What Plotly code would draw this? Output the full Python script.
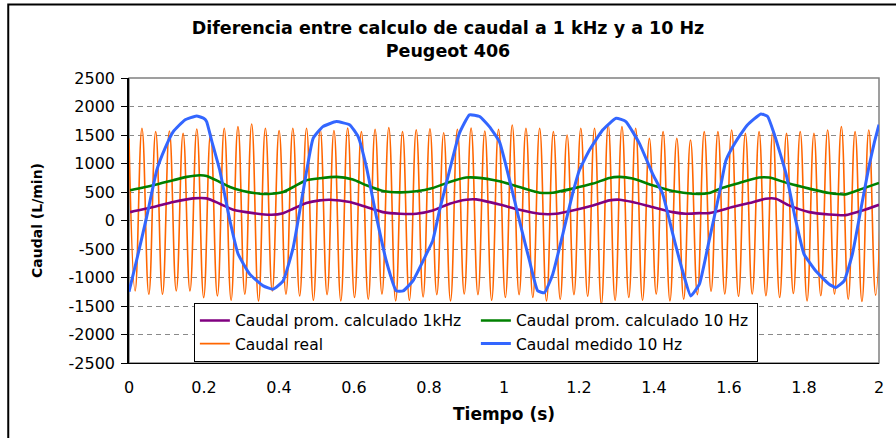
import plotly.graph_objects as go

# ---------------- data ----------------
# Caudal medido 10 Hz (blue)
t_medido = [0.000, 0.020, 0.047, 0.074, 0.096, 0.118, 0.149, 0.180, 0.200, 0.207, 0.220, 0.242,
            0.269, 0.291, 0.322, 0.358, 0.384, 0.411, 0.438, 0.464, 0.491, 0.517, 0.553, 0.589,
            0.611, 0.633, 0.660, 0.686, 0.713, 0.731, 0.757, 0.793, 0.810, 0.828, 0.855, 0.881,
            0.908, 0.935, 0.961, 0.988, 1.015, 1.041, 1.068, 1.090, 1.108, 1.130, 1.157, 1.183,
            1.201, 1.228, 1.263, 1.299, 1.325, 1.361, 1.396, 1.423, 1.450, 1.476, 1.498, 1.521,
            1.547, 1.574, 1.592, 1.618, 1.649, 1.685, 1.703, 1.720, 1.752, 1.778, 1.800, 1.831,
            1.867, 1.885, 1.907, 1.929, 1.951, 1.973, 1.987, 2.000]
v_medido = [-1250, -706, 59, 882, 1265, 1559, 1765, 1835, 1790, 1735, 1412, 882,
            0, -588, -941, -1147, -1206, -1059, -470, 500, 1440, 1647, 1735, 1676,
            1470, 941, 59, -706, -1235, -1235, -1059, -588, -353, 176, 882, 1529,
            1853, 1824, 1647, 1380, 706, 0, -706, -1235, -1265, -941, -235, 470,
            882, 1235, 1588, 1794, 1735, 1353, 823, 470, -235, -882, -1324, -1118,
            -353, 470, 1059, 1382, 1676, 1870, 1824, 1529, 823, 0, -588, -882,
            -1118, -1176, -1059, -588, 176, 941, 1353, 1680]

# Caudal prom. calculado 1kHz (purple)
t_prom_1k = [0.003, 0.065, 0.118, 0.171, 0.207, 0.242, 0.278, 0.331, 0.380, 0.411, 0.438, 0.473,
             0.509, 0.535, 0.589, 0.633, 0.677, 0.722, 0.766, 0.810, 0.855, 0.899, 0.926, 0.988,
             1.041, 1.095, 1.139, 1.183, 1.237, 1.281, 1.308, 1.343, 1.396, 1.450, 1.485, 1.521,
             1.547, 1.609, 1.654, 1.698, 1.725, 1.760, 1.814, 1.867, 1.911, 1.956, 2.000]
v_prom_1k = [147, 235, 324, 388, 388, 294, 188, 129, 100, 129, 206, 306,
             353, 365, 324, 235, 147, 118, 118, 176, 294, 365, 371, 282,
             188, 118, 118, 176, 265, 353, 365, 324, 235, 147, 118, 129,
             129, 235, 306, 382, 382, 265, 147, 106, 94, 176, 276]

# Caudal prom. calculado 10 Hz (green)
t_prom_10 = [0.003, 0.065, 0.118, 0.154, 0.189, 0.207, 0.242, 0.269, 0.304, 0.349, 0.380, 0.411,
             0.438, 0.473, 0.509, 0.553, 0.597, 0.633, 0.677, 0.722, 0.766, 0.810, 0.855, 0.899,
             0.926, 0.988, 1.041, 1.095, 1.130, 1.183, 1.237, 1.281, 1.308, 1.343, 1.396, 1.450,
             1.503, 1.547, 1.583, 1.627, 1.680, 1.707, 1.760, 1.814, 1.867, 1.911, 1.956, 2.000]
v_prom_10 = [529, 618, 706, 765, 794, 782, 676, 588, 518, 470, 470, 500,
             588, 706, 740, 765, 718, 618, 518, 494, 512, 570, 676, 753,
             753, 688, 588, 488, 488, 559, 647, 747, 765, 735, 618, 518,
             470, 482, 576, 659, 753, 753, 647, 559, 482, 459, 559, 659]

# Caudal real (orange): peak and trough values of each cycle
real_peaks = [1440, 1618, 1559, 1570, 1529, 1606, 1530, 1618, 1647, 1694, 1618, 1576, 1618, 1618,
              1600, 1580, 1620, 1560, 1600, 1630, 1560, 1590, 1610, 1540, 1600, 1620, 1570, 1600,
              1676, 1618, 1618, 1560, 1500, 1618, 1618, 1676, 1647, 1618, 1441, 1560, 1441, 1412,
              1560, 1560, 1588, 1529, 1560, 1560, 1529, 1560, 1529, 1588, 1647, 1560, 1588, 1700]
real_troughs = [-1235, -1294, -1294, -1235, -1235, -1353, -1324, -1400, -1294, -1412, -1235, -1294, -1324, -1400,
                -1300, -1410, -1350, -1380, -1290, -1410, -1400, -1340, -1300, -1410, -1290, -1300, -1400, -1350,
                -1300, -1350, -1410, -1380, -1300, -1330, -1470, -1400, -1350, -1400, -1290, -1410, -1380, -1300,
                -1240, -1290, -1330, -1290, -1320, -1350, -1280, -1410, -1320, -1290, -1380, -1420, -1310]
real_first_peak_t = -0.002   # time of first peak (s)
real_period = 0.03657        # cycle length (s)

x_tick_vals = [0, 0.2, 0.4, 0.6, 0.8, 1.0, 1.2, 1.4, 1.6, 1.8, 2.0]
x_tick_text = ["0", "0.2", "0.4", "0.6", "0.8", "1", "1.2", "1.4", "1.6", "1.8", "2"]
y_tick_vals = [-2500, -2000, -1500, -1000, -500, 0, 500, 1000, 1500, 2000, 2500]
y_tick_text = ["-2500", "-2000", "-1500", "-1000", "-500", "0", "500", "1000", "1500", "2000", "2500"]

# ---------------- build orange vertices ----------------
t_real, v_real = [], []
for i, pk in enumerate(real_peaks):
    t_real.append(max(0.0, real_first_peak_t + i * real_period))
    v_real.append(pk)
    if i < len(real_troughs):
        t_real.append(real_first_peak_t + (i + 0.5) * real_period)
        v_real.append(real_troughs[i])

FONT = "DejaVu Sans"

fig = go.Figure()
fig.add_trace(go.Scatter(x=t_real, y=v_real, mode="lines", name="Caudal real",
                         line=dict(color="#FF6600", width=1.6, shape="spline", smoothing=1.3),
                         legendrank=3))
fig.add_trace(go.Scatter(x=t_prom_1k, y=v_prom_1k, mode="lines", name="Caudal prom. calculado 1kHz",
                         line=dict(color="#800080", width=2.6, shape="spline", smoothing=0.6), legendrank=1))
fig.add_trace(go.Scatter(x=t_prom_10, y=v_prom_10, mode="lines", name="Caudal prom. calculado 10 Hz",
                         line=dict(color="#008000", width=2.6, shape="spline", smoothing=0.6), legendrank=2))
fig.add_trace(go.Scatter(x=t_medido, y=v_medido, mode="lines", name="Caudal medido 10 Hz",
                         line=dict(color="#3366FF", width=3, shape="spline", smoothing=0.4), legendrank=4))

fig.update_layout(
    width=896, height=438,
    margin=dict(l=129, r=15, t=78, b=75),
    paper_bgcolor="white", plot_bgcolor="white",
    font=dict(family=FONT, color="black", size=16),
    showlegend=True,
    hovermode=False,
    title=dict(text="<b>Diferencia entre calculo de caudal a 1 kHz y a 10 Hz<br>Peugeot 406</b>",
               x=0.5, xanchor="center", y=0.922, yanchor="top",
               font=dict(family=FONT, size=17.5, color="black")),
    legend=dict(orientation="h", x=0.0865, xanchor="left", y=0.004, yanchor="bottom",
                bgcolor="white", bordercolor="black", borderwidth=1,
                font=dict(family=FONT, size=15.5, color="black"),
                entrywidth=236, entrywidthmode="pixels", traceorder="normal",
                itemwidth=30),
    xaxis=dict(range=[0, 2], tickvals=x_tick_vals, ticktext=x_tick_text, showgrid=False,
               zeroline=False, ticks="", showline=True, linecolor="black", linewidth=1.2,
               tickfont=dict(family=FONT, size=16), ticklabelstandoff=10,
               title=dict(text="<b>Tiempo (s)</b>", font=dict(family=FONT, size=17), standoff=11)),
    xaxis2=dict(range=[0, 2], overlaying="x", anchor="free", position=0.5, side="bottom",
                tickvals=x_tick_vals[1:-1], ticks="outside", ticklen=6, tickcolor="black",
                tickwidth=1.2, showticklabels=False, showgrid=False, zeroline=False,
                showline=True, linecolor="#202020", linewidth=1.2),
    xaxis3=dict(range=[0, 2], overlaying="x", anchor="free", position=0.5, side="bottom",
                tickvals=x_tick_vals[1:-1], ticks="inside", ticklen=6, tickcolor="black",
                tickwidth=1.2, showticklabels=False, showgrid=False, zeroline=False, showline=False),
    yaxis=dict(range=[-2500, 2500], tickvals=y_tick_vals, ticktext=y_tick_text,
               showgrid=True, gridcolor="#8a8a8a", griddash="5px,4px", gridwidth=1,
               zeroline=False, ticks="outside", ticklen=6, tickcolor="black",
               showline=True, linecolor="black", linewidth=1.5,
               tickfont=dict(family=FONT, size=16), ticklabelstandoff=3,
               title=dict(text="<b>Caudal (L/min)</b>", font=dict(family=FONT, size=14),
                          standoff=23)),
    shapes=[
        dict(type="rect", xref="paper", yref="paper", x0=0, x1=1, y0=0, y1=1,
             line=dict(color="#808080", width=1.5), layer="below"),
        dict(type="rect", xref="paper", yref="paper", x0=-0.161, x1=1.1, y0=-0.4, y1=1.258,
             line=dict(color="black", width=2)),
    ],
)

fig.write_html("out.html", config={"displayModeBar": False},
               post_script="document.body.style.margin='0px';")
